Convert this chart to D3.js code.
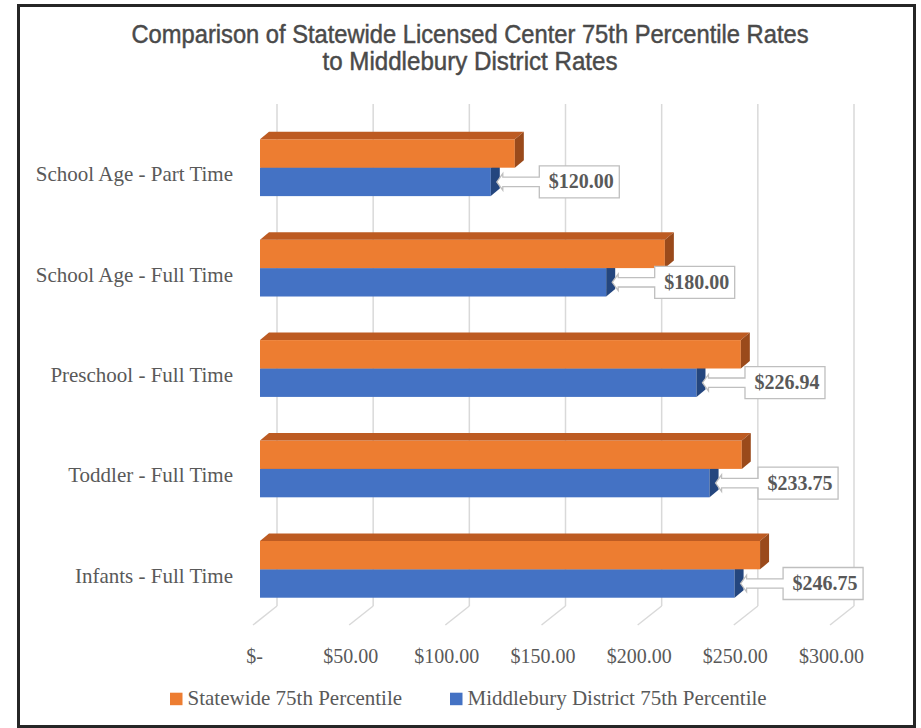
<!DOCTYPE html>
<html>
<head>
<meta charset="utf-8">
<script src="https://cdn.jsdelivr.net/npm/d3@7"></script>
<style>
  body { margin: 0; background: #fff; }
  .container { width: 921px; height: 728px; }
</style>
</head>
<body>
<div class="container"></div>
<script>
// data
const categories = ['School Age - Part Time', 'School Age - Full Time', 'Preschool - Full Time', 'Toddler - Full Time', 'Infants - Full Time'];
const statewide = [132.5, 210.5, 250.0, 250.5, 260.0];
const middlebury = [120.00, 180.00, 226.94, 233.75, 246.75];
const tickValues = [0, 50, 100, 150, 200, 250, 300];
const seriesNames = ['Statewide 75th Percentile', 'Middlebury District 75th Percentile'];
const titleLines = ['Comparison of Statewide Licensed Center 75th Percentile Rates', 'to Middlebury District Rates'];

// initial setup
const w = 921;
const h = 728;
const textColor = '#595959';
const serif = '"Liberation Serif", "Times New Roman", serif';

const colors = {
    orange: { front: '#ED7D31', top: '#BD5B22', side: '#9A4A1B' },
    blue: { front: '#4472C4', top: '#3560AA', side: '#24467E' }
};

// 3d geometry: front plane, bar plane, back wall
const frontX = 253, floorY = 625;
const depth = [24, -19];          // front -> back wall
const barOff = [7, -5.5];         // front -> bar front face
const barDepth = [9, -7.5];       // thickness of the bars

const svg = d3.select('.container')
              .append('svg')
              .attr('width', w)
              .attr('height', h);

svg.append('rect')
   .attr('x', 18.5).attr('y', 5.5)
   .attr('width', 896).attr('height', 721)
   .attr('fill', '#fff')
   .attr('stroke', '#262626')
   .attr('stroke-width', 3);

// scales
const x = d3.scaleLinear()
            .domain([0, 300])
            .range([0, 577]);

const y = d3.scaleBand()
            .domain(categories)
            .range([104 - depth[1] + barOff[1], floorY + barOff[1]])
            .paddingInner(0.434)
            .paddingOuter(0.217);

const barX0 = frontX + barOff[0];
const backX0 = frontX + depth[0];
const backBottom = floorY + depth[1];

// grid on back wall + floor lines
const grid = svg.append('g');
grid.selectAll('.vline')
    .data(tickValues)
    .enter().append('line')
    .attr('x1', d => backX0 + x(d)).attr('x2', d => backX0 + x(d))
    .attr('y1', 104).attr('y2', backBottom)
    .attr('stroke', '#d9d9d9').attr('stroke-width', 1.5);
grid.selectAll('.dline')
    .data(tickValues)
    .enter().append('line')
    .attr('x1', d => backX0 + x(d)).attr('y1', backBottom)
    .attr('x2', d => frontX + x(d)).attr('y2', floorY)
    .attr('stroke', '#d9d9d9').attr('stroke-width', 1.5);

// bars
const bh = y.bandwidth() / 2;
const drawBar = (g, v, top, c) => {
    const x0 = barX0, xe = barX0 + x(v);
    const [dx, dy] = barDepth;
    g.append('rect')
     .attr('x', x0).attr('y', top)
     .attr('width', xe - x0).attr('height', bh)
     .attr('fill', c.front);
    g.append('path')
     .attr('d', `M${x0},${top}L${x0 + dx},${top + dy}L${xe + dx},${top + dy}L${xe},${top}Z`)
     .attr('fill', c.top);
    g.append('path')
     .attr('d', `M${xe},${top}L${xe + dx},${top + dy}L${xe + dx},${top + bh + dy}L${xe},${top + bh}Z`)
     .attr('fill', c.side);
};

const bars = svg.append('g');
categories.forEach((cat, i) => {
    const g = bars.append('g');
    drawBar(g, middlebury[i], y(cat) + bh, colors.blue);
    drawBar(g, statewide[i], y(cat), colors.orange);
});

// callouts for middlebury values
const callouts = svg.append('g');
categories.forEach((cat, i) => {
    const xe = barX0 + x(middlebury[i]);
    const yc = y(cat) + bh * 1.5;
    const bl = xe + 48.5, bw = 80, bhh = 32;
    const bt = yc - bhh / 2, bb = yc + bhh / 2;
    const xt = xe + 6, hl = 6, hh = 8.3, sh = 4.7;
    const d = `M${bl},${bt}L${bl + bw},${bt}L${bl + bw},${bb}L${bl},${bb}L${bl},${yc + sh}` +
              `L${xt + hl},${yc + sh}L${xt + hl},${yc + hh}L${xt},${yc}L${xt + hl},${yc - hh}` +
              `L${xt + hl},${yc - sh}L${bl},${yc - sh}Z`;
    callouts.append('path')
            .attr('d', d)
            .attr('fill', '#fff')
            .attr('stroke', '#bfbfbf')
            .attr('stroke-width', 1.3);
    callouts.append('text')
            .attr('x', bl + bw / 2 + 2)
            .attr('y', bt + 22.5)
            .attr('text-anchor', 'middle')
            .attr('font-family', serif)
            .attr('font-weight', 'bold')
            .attr('font-size', 20)
            .attr('fill', textColor)
            .text('$' + d3.format(',.2f')(middlebury[i]));
});

// axis
const xFront = x.copy().range([frontX + 1, frontX + 1 + 577]);
const xAxis = d3.axisBottom(xFront)
                .tickValues(tickValues)
                .tickSize(0)
                .tickPadding(0)
                .tickFormat(d => d === 0 ? '$-' : '$' + d3.format(',.2f')(d));
const xGroup = svg.append('g')
                  .attr('transform', `translate(0, ${663 - 0.71 * 20})`)
                  .call(xAxis);
xGroup.select('.domain').remove();
xGroup.selectAll('text')
      .attr('font-family', serif)
      .attr('font-size', 20)
      .attr('fill', textColor);

const yAxis = d3.axisLeft(y).tickSize(0).tickPadding(0);
const yGroup = svg.append('g')
                  .attr('transform', `translate(233, ${13.5 - 0.32 * 21})`)
                  .call(yAxis);
yGroup.select('.domain').remove();
yGroup.selectAll('text')
      .attr('font-family', serif)
      .attr('font-size', 21)
      .attr('fill', textColor);

// title
svg.selectAll('.title')
   .data(titleLines)
   .enter().append('text')
   .attr('x', 470)
   .attr('y', (d, i) => 43 + i * 27)
   .attr('text-anchor', 'middle')
   .attr('font-family', '"Liberation Sans", Arial, sans-serif')
   .attr('font-size', 25)
   .attr('fill', '#4a4a4a')
   .attr('stroke', '#4a4a4a')
   .attr('stroke-width', 0.45)
   .attr('textLength', (d, i) => i === 0 ? 677 : 295)
   .attr('lengthAdjust', 'spacingAndGlyphs')
   .text(d => d);

// legend
const legendX = [170, 450];
const legend = svg.append('g');
seriesNames.forEach((name, i) => {
    legend.append('rect')
          .attr('x', legendX[i]).attr('y', 692.7)
          .attr('width', 12.5).attr('height', 12.5)
          .attr('fill', i === 0 ? colors.orange.front : colors.blue.front);
    legend.append('text')
          .attr('x', legendX[i] + 17.5)
          .attr('y', 705)
          .attr('font-family', serif)
          .attr('font-size', 21)
          .attr('fill', textColor)
          .text(name);
});
</script>
</body>
</html>
